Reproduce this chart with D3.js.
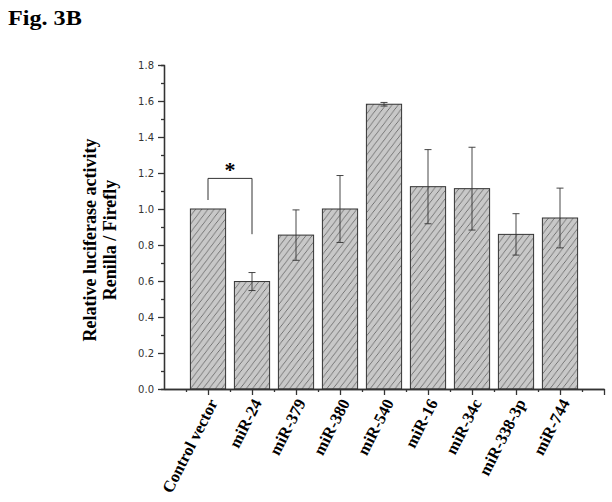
<!DOCTYPE html>
<html>
<head>
	<title>Fig. 3B</title>
</head>
<body>

<svg class="chart"></svg>

<style type="text/css">
	body {
		margin: 0;
		background: #fff;
	}

	.chart {
		display: block;
		background: #fff;
	}

	.chart .axis path,
	.chart .axis line {
		stroke: #333;
		stroke-width: 1.3px;
	}

	.chart .axis text {
		font-family: "DejaVu Sans", sans-serif;
		font-size: 10px;
		fill: #333;
	}

	.chart .serif {
		font-family: "Liberation Serif", "Times New Roman", serif;
		font-weight: bold;
		fill: #000;
	}
</style>

<script src="https://d3js.org/d3.v7.min.js"></script>
<script type="text/javascript">
	var categories = ['Control vector', 'miR-24', 'miR-379', 'miR-380', 'miR-540', 'miR-16', 'miR-34c', 'miR-338-3p', 'miR-744']
	var values = [1.0, 0.597, 0.855, 1.0, 1.582, 1.124, 1.113, 0.859, 0.95]
	var errors = [0, 0.05, 0.14, 0.186, 0.01, 0.206, 0.23, 0.115, 0.166]
	var yTicks = [0, 0.2, 0.4, 0.6, 0.8, 1.0, 1.2, 1.4, 1.6, 1.8]

	// significance bracket between bar 0 and bar 1
	var bracketFrom = 0
	var bracketTo = 1
	var bracketTop = 1.17
	var bracketLeftFoot = 1.05
	var bracketRightFoot = 0.86

	;(function() {
		'use strict'

		var width = 612
		var height = 502

		var svg = d3.select('.chart')
			.attr('width', width)
			.attr('height', height)

		var x = d3.scaleLinear().domain([0, categories.length + 1]).range([164, 604])
		var y = d3.scaleLinear().domain([0, 1.8]).range([389, 65])

		var barW = x(0.8) - x(0)

		// hatch pattern
		var pat = svg.append('defs').append('pattern')
			.attr('id', 'hatch')
			.attr('patternUnits', 'userSpaceOnUse')
			.attr('width', 7)
			.attr('height', 7)
			.attr('patternTransform', 'rotate(-8)')
		pat.append('rect')
			.attr('width', 7)
			.attr('height', 7)
			.attr('fill', '#c8c8c8')
		pat.append('path')
			.attr('d', 'M0,7 L7,0 M-1,1 L1,-1 M6,8 L8,6')
			.attr('stroke', '#4a4a4a')
			.attr('stroke-width', 0.7)

		// title
		svg.append('text')
			.attr('class', 'serif')
			.attr('transform', 'translate(8,25) scale(1.15,1)')
			.style('font-size', '21px')
			.text('Fig. 3B')

		// bars
		svg.selectAll('.bar')
			.data(values)
			.enter()
			.append('rect')
			.attr('class', 'bar')
			.attr('x', function(d, i) { return x(i + 1) - barW / 2 })
			.attr('y', function(d) { return y(d) })
			.attr('width', barW)
			.attr('height', function(d) { return y(0) - y(d) })
			.attr('fill', 'url(#hatch)')
			.attr('stroke', '#333')
			.attr('stroke-width', 1)

		// error bars
		var eb = svg.selectAll('.err')
			.data(values.map(function(v, i) { return [i, v, errors[i]] }).filter(function(d) { return d[2] > 0 }))
			.enter()
			.append('g')
			.attr('class', 'err')
			.attr('stroke', '#333')
			.attr('stroke-width', 0.9)
		eb.append('line')
			.attr('x1', function(d) { return x(d[0] + 1) })
			.attr('x2', function(d) { return x(d[0] + 1) })
			.attr('y1', function(d) { return y(d[1] - d[2]) })
			.attr('y2', function(d) { return y(d[1] + d[2]) })
		eb.append('line')
			.attr('x1', function(d) { return x(d[0] + 1) - 3.5 })
			.attr('x2', function(d) { return x(d[0] + 1) + 3.5 })
			.attr('y1', function(d) { return y(d[1] + d[2]) })
			.attr('y2', function(d) { return y(d[1] + d[2]) })
		eb.append('line')
			.attr('x1', function(d) { return x(d[0] + 1) - 3.5 })
			.attr('x2', function(d) { return x(d[0] + 1) + 3.5 })
			.attr('y1', function(d) { return y(d[1] - d[2]) })
			.attr('y2', function(d) { return y(d[1] - d[2]) })

		// y axis
		svg.append('g')
			.attr('class', 'axis')
			.attr('transform', 'translate(' + x(0) + ',0)')
			.call(d3.axisLeft(y).tickValues(d3.range(0.1, 1.8, 0.2)).tickSize(3).tickFormat(''))
		svg.append('g')
			.attr('class', 'axis')
			.attr('transform', 'translate(' + x(0) + ',0)')
			.call(d3.axisLeft(y).tickValues(yTicks).tickSize(6).tickSizeOuter(0).tickPadding(4).tickFormat(d3.format('.1f')))

		// x axis
		svg.append('g')
			.attr('class', 'axis')
			.attr('transform', 'translate(0,' + y(0) + ')')
			.call(d3.axisBottom(x).tickValues(d3.range(0.5, categories.length + 1, 1)).tickSize(3).tickSizeOuter(0).tickFormat(''))
		svg.append('g')
			.attr('class', 'axis')
			.attr('transform', 'translate(0,' + y(0) + ')')
			.call(d3.axisBottom(x).tickValues(d3.range(1, categories.length + 2)).tickSize(6).tickSizeOuter(0).tickFormat(''))

		// category labels
		svg.selectAll('.xlabel')
			.data(categories)
			.enter()
			.append('text')
			.attr('class', 'serif xlabel')
			.attr('transform', function(d, i) { return 'translate(' + (x(i + 1) + 5) + ',' + (y(0) + 11) + ') rotate(-63)' })
			.attr('text-anchor', 'end')
			.attr('dy', '0.35em')
			.style('font-size', '16.5px')
			.text(function(d) { return d })

		// y axis title
		var yt = svg.append('text')
			.attr('class', 'serif')
			.attr('transform', 'translate(96,240) rotate(-90)')
			.attr('text-anchor', 'middle')
			.style('font-size', '18px')
		yt.append('tspan').attr('x', 0).attr('y', 0).text('Relative luciferase activity')
		yt.append('tspan').attr('x', 0).attr('y', 20).text('Renilla / Firefly')

		// significance bracket
		var bx1 = x(bracketFrom + 1)
		var bx2 = x(bracketTo + 1)
		svg.append('path')
			.attr('d', 'M' + bx1 + ',' + y(bracketLeftFoot) + 'V' + y(bracketTop) + 'H' + bx2 + 'V' + y(bracketRightFoot))
			.attr('fill', 'none')
			.attr('stroke', '#333')
			.attr('stroke-width', 1)
		svg.append('text')
			.attr('class', 'serif')
			.attr('x', (bx1 + bx2) / 2)
			.attr('y', y(bracketTop) - 1)
			.attr('text-anchor', 'middle')
			.style('font-size', '22px')
			.text('*')
	})()
</script>
</body>
</html>
